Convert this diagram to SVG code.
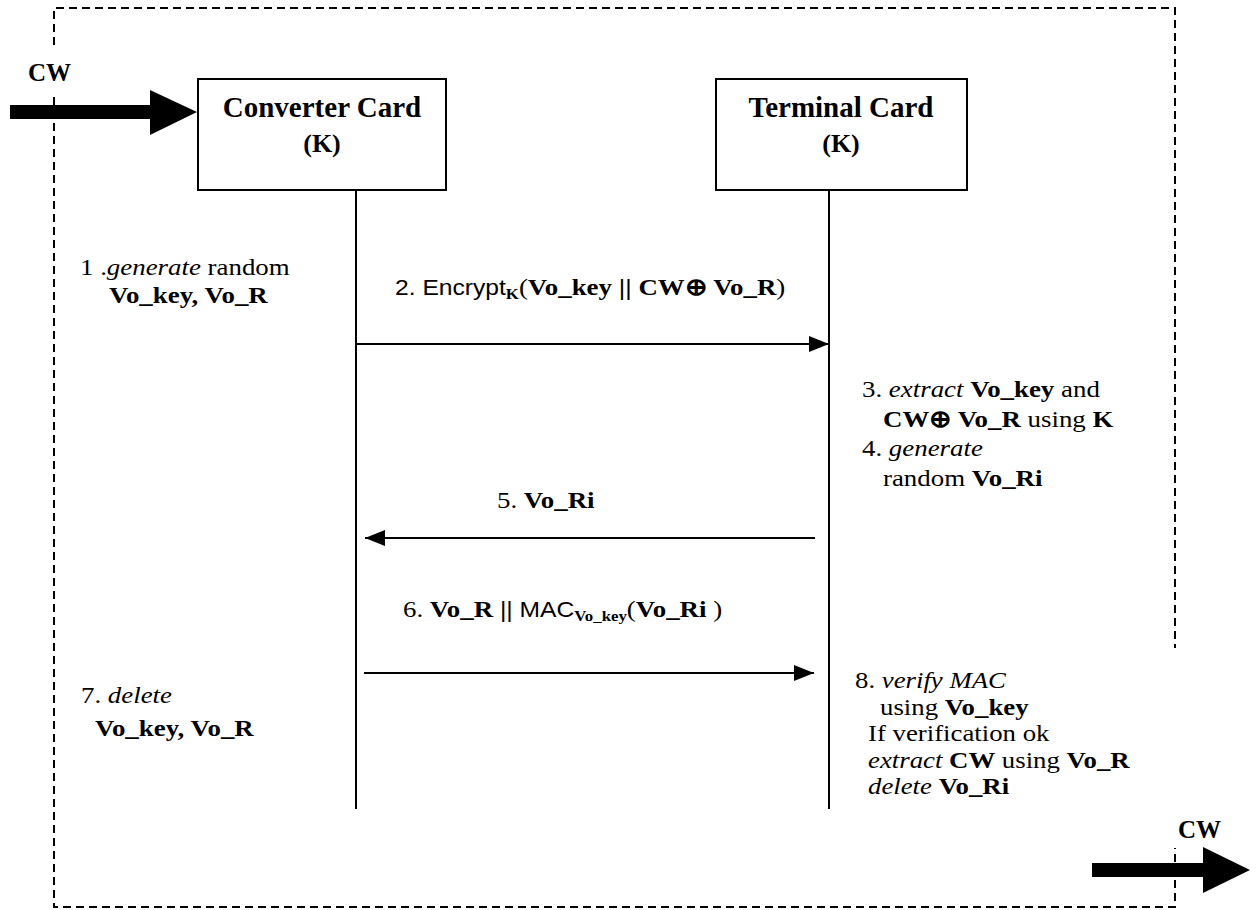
<svg xmlns="http://www.w3.org/2000/svg" width="1256" height="910" viewBox="0 0 1256 910">
<defs>
<style>
.t{font-family:"Liberation Serif","Times New Roman",serif;font-size:24px;fill:#000}
.b{font-weight:bold}
.i{font-style:italic}
.s{font-family:"Liberation Sans",Arial,sans-serif;font-size:22px}
.sub{font-family:"Liberation Serif",serif;font-weight:bold;font-size:15px}
.title{font-family:"Liberation Serif","Times New Roman",serif;font-weight:bold;font-size:29px;text-anchor:middle}
.dash{fill:none;stroke:#000;stroke-width:2;stroke-dasharray:8 5}
.box{fill:#fff;stroke:#000;stroke-width:2}
.life{stroke:#000;stroke-width:2}
.msg{stroke:#000;stroke-width:2;fill:none}
</style>
<marker id="ah" viewBox="0 0 20 16" refX="20" refY="8" markerWidth="20" markerHeight="16" markerUnits="userSpaceOnUse" orient="auto">
<path d="M0,0 L20,8 L0,16 Z" fill="#000"/>
</marker>
</defs>
<rect width="1256" height="910" fill="#fff"/>

<g id="boundary">
<path class="dash" d="M54,45 L54,8 L1175,8 L1175,648"/>
<path class="dash" d="M54,97 L54,907 L1175,907 L1175,848"/>
</g>

<g id="converter-card">
<rect class="box" x="198" y="79" width="248" height="111"/>
<text class="title" x="322" y="117">Converter Card</text>
<text class="title" x="322" y="152" style="font-size:26px">(K)</text>
</g>

<g id="terminal-card">
<rect class="box" x="716" y="79" width="251" height="111"/>
<text class="title" x="841" y="117">Terminal Card</text>
<text class="title" x="841" y="152" style="font-size:26px">(K)</text>
</g>

<g id="connectors">
<line class="life" x1="356" y1="190" x2="356" y2="809"/>
<line class="life" x1="829" y1="190" x2="829" y2="809"/>
<line class="msg" x1="356" y1="344" x2="829" y2="344" marker-end="url(#ah)"/>
<line class="msg" x1="815" y1="538" x2="365" y2="538" marker-end="url(#ah)"/>
<line class="msg" x1="364" y1="673" x2="814" y2="673" marker-end="url(#ah)"/>
<path id="cw-in" d="M10,105 L150,105 L150,90 L197,112 L150,135 L150,119 L10,119 Z" fill="#000"/>
<path id="cw-out" d="M1092,863 L1203,863 L1203,847 L1250,870 L1203,893 L1203,877 L1092,877 Z" fill="#000"/>
</g>

<g id="labels">
<text class="t b" x="28" y="81" style="font-size:25px">CW</text>
<text class="t b" x="1178" y="838" style="font-size:25px">CW</text>

<text class="t" transform="translate(80,275) scale(1.12,1)">1 .<tspan class="i">generate</tspan> random</text>
<text class="t b" transform="translate(109,303) scale(1.12,1)">Vo_key, Vo_R</text>

<text class="t" transform="translate(395,295) scale(1.12,1)"><tspan class="s">2. Encrypt</tspan><tspan class="sub" dy="4">K</tspan><tspan dy="-4">(</tspan><tspan class="b">Vo_key</tspan><tspan class="s"> || </tspan><tspan class="b">CW⊕ Vo_R</tspan>)</text>

<text class="t" transform="translate(862,397) scale(1.12,1)">3. <tspan class="i">extract</tspan> <tspan class="b">Vo_key</tspan> and</text>
<text class="t" transform="translate(883,427) scale(1.12,1)"><tspan class="b">CW⊕ Vo_R</tspan> using <tspan class="b">K</tspan></text>
<text class="t" transform="translate(862,456) scale(1.12,1)">4. <tspan class="i">generate</tspan></text>
<text class="t" transform="translate(883,486) scale(1.12,1)">random <tspan class="b">Vo_Ri</tspan></text>

<text class="t" transform="translate(497,508) scale(1.12,1)">5. <tspan class="b">Vo_Ri</tspan></text>

<text class="t" transform="translate(403,617) scale(1.12,1)">6. <tspan class="b">Vo_R</tspan><tspan class="s"> || MAC</tspan><tspan class="sub" dy="4">Vo_key</tspan><tspan dy="-4">(</tspan><tspan class="b">Vo_Ri</tspan> )</text>

<text class="t" transform="translate(81,703) scale(1.12,1)">7. <tspan class="i">delete</tspan></text>
<text class="t b" transform="translate(95,736) scale(1.12,1)">Vo_key, Vo_R</text>

<text class="t" style="font-size:23.5px" transform="translate(855,688) scale(1.14,1)">8. <tspan class="i">verify MAC</tspan></text>
<text class="t" style="font-size:23.5px" transform="translate(880,714.5) scale(1.14,1)">using  <tspan class="b">Vo_key</tspan></text>
<text class="t" style="font-size:23.5px" transform="translate(868,741) scale(1.14,1)">If verification ok</text>
<text class="t" style="font-size:23.5px" transform="translate(868,767.5) scale(1.14,1)"><tspan class="i">extract</tspan> <tspan class="b">CW</tspan> using <tspan class="b">Vo_R</tspan></text>
<text class="t" style="font-size:23.5px" transform="translate(868,794) scale(1.14,1)"><tspan class="i">delete</tspan> <tspan class="b">Vo_Ri</tspan></text>
</g>
</svg>
